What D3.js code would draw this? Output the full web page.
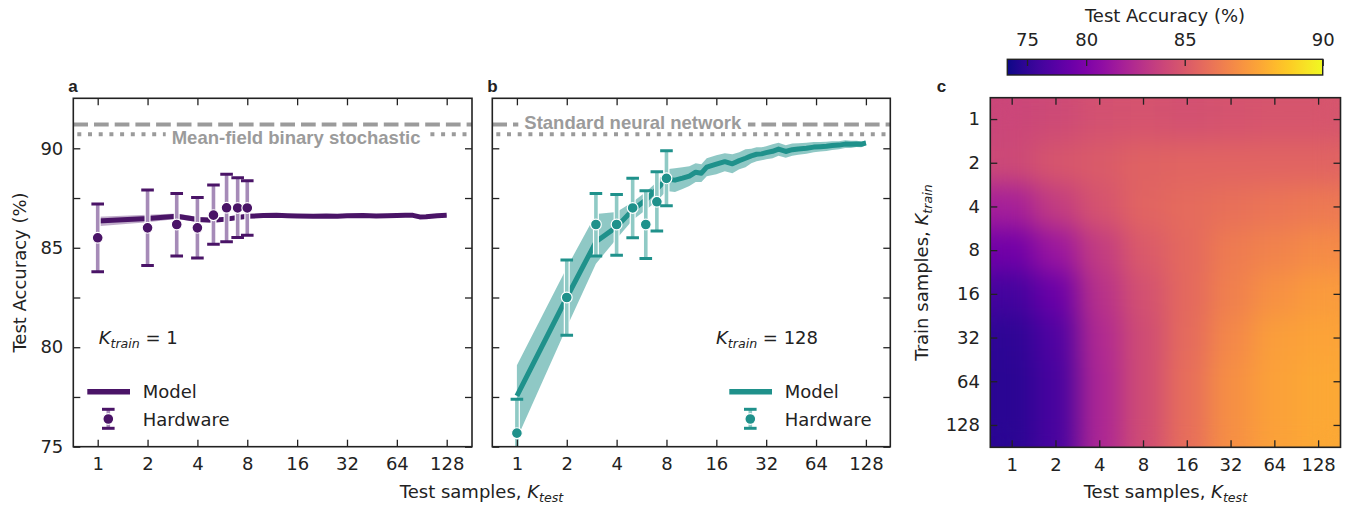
<!DOCTYPE html>
<html>
<head>
<meta charset="utf-8">
<script src="https://cdn.jsdelivr.net/npm/d3@7"></script>
<style>
  body { margin: 0; background: #fff; }
  svg { display: block; }
  text { font-family: "DejaVu Sans", sans-serif; fill: #222; }
</style>
</head>
<body>
<div id="chart"></div>
<script>
// ---- data ----
var kTicks = [1, 2, 4, 8, 16, 32, 64, 128];
var hwK = [1, 2, 3, 4, 5, 6, 7, 8];

// panel a: K_train = 1
var aK = [1, 2, 3, 4, 5, 6, 7, 8, 10, 12, 14, 16, 20, 24, 28, 32, 40, 48, 56, 64, 72, 80, 88, 96, 112, 128];
var aModel = [86.34, 86.47, 86.58, 86.42, 86.38, 86.44, 86.52, 86.58, 86.62, 86.63, 86.61, 86.60, 86.59, 86.60, 86.58, 86.61, 86.62, 86.60, 86.61, 86.62, 86.63, 86.63, 86.55, 86.56, 86.61, 86.63];
var aUpper = [86.56, 86.66, 86.72, 86.56, 86.50, 86.54, 86.60, 86.65, 86.67, 86.67, 86.65, 86.64, 86.63, 86.64, 86.62, 86.65, 86.66, 86.64, 86.65, 86.66, 86.67, 86.67, 86.59, 86.60, 86.65, 86.67];
var aLower = [86.08, 86.28, 86.45, 86.30, 86.27, 86.35, 86.44, 86.51, 86.57, 86.59, 86.57, 86.56, 86.55, 86.56, 86.54, 86.57, 86.58, 86.56, 86.57, 86.58, 86.59, 86.59, 86.51, 86.52, 86.57, 86.59];
var aHw = [85.50, 86.00, 86.17, 86.00, 86.64, 87.01, 87.00, 87.00];
var aHwLo = [83.79, 84.11, 84.59, 84.49, 85.18, 85.30, 85.52, 85.63];
var aHwHi = [87.20, 87.90, 87.73, 87.53, 88.15, 88.69, 88.52, 88.37];

// panel b: K_train = 128
var bK = [1, 2, 3, 4, 5, 6, 7, 8, 9, 10, 11, 12, 13, 14, 16, 18, 20, 22, 24, 26, 28, 30, 32, 35, 38, 42, 46, 50, 56, 62, 68, 74, 80, 88, 96, 104, 112, 120, 128];
var bModel = [77.55, 82.50, 85.30, 86.05, 86.90, 87.40, 87.95, 88.45, 88.40, 88.50, 88.60, 88.80, 88.75, 89.05, 89.20, 89.33, 89.22, 89.38, 89.50, 89.62, 89.70, 89.72, 89.78, 89.85, 89.96, 89.84, 89.93, 89.97, 90.00, 90.06, 90.08, 90.10, 90.14, 90.16, 90.21, 90.20, 90.22, 90.20, 90.27];
var bUpper = [79.10, 84.00, 86.70, 86.80, 87.30, 87.80, 88.30, 88.95, 89.00, 89.05, 89.10, 89.25, 89.20, 89.50, 89.65, 89.75, 89.70, 89.80, 89.95, 89.98, 90.05, 90.05, 90.10, 90.20, 90.28, 90.15, 90.24, 90.26, 90.28, 90.32, 90.32, 90.33, 90.36, 90.36, 90.40, 90.38, 90.38, 90.35, 90.38];
var bLower = [75.40, 81.00, 84.20, 85.45, 86.40, 86.90, 87.35, 87.85, 87.80, 87.95, 88.10, 88.30, 88.30, 88.60, 88.70, 88.85, 88.75, 88.95, 89.05, 89.25, 89.35, 89.40, 89.45, 89.50, 89.62, 89.52, 89.62, 89.68, 89.72, 89.80, 89.84, 89.86, 89.92, 89.95, 90.02, 90.02, 90.06, 90.05, 90.15];
var bHw = [75.68, 82.50, 86.17, 86.17, 87.00, 86.17, 87.31, 88.49];
var bHwLo = [74.00, 80.60, 84.59, 84.63, 85.50, 84.46, 85.84, 87.11];
var bHwHi = [77.38, 84.38, 87.73, 87.68, 88.49, 87.87, 88.82, 89.88];

// reference lines
var standardNN = 91.2;
var meanField = 90.7;

// panel c: rows = K_train (1..128), cols = K_test (1..128)
var heatRows = [
  [84.1, 84.3, 84.6, 84.7, 84.6, 84.7, 84.8, 84.8],
  [84.2, 84.8, 85.1, 85.4, 85.5, 85.5, 85.5, 85.5],
  [82.0, 83.6, 84.7, 85.5, 85.8, 86.0, 86.2, 86.3],
  [79.3, 81.5, 83.6, 85.0, 85.7, 86.4, 86.7, 87.0],
  [76.5, 79.0, 83.0, 84.6, 85.7, 86.6, 87.2, 87.5],
  [74.8, 77.3, 82.6, 84.4, 85.8, 86.9, 87.6, 87.8],
  [74.5, 76.8, 82.4, 84.4, 85.9, 87.1, 87.7, 87.9],
  [74.5, 76.8, 82.4, 84.4, 85.9, 87.1, 87.7, 87.9]
];
var cbarTicks = [75, 80, 85, 90];
var yTicks = [75, 77.5, 80, 82.5, 85, 87.5, 90];

// ---- layout ----
var W = 1353, H = 508;
var PA = {left: 73.3, right: 472, top: 98.3, bottom: 446.7};
var PB = {left: 492.3, right: 890.3, top: 98.3, bottom: 446.7};
var PC = {left: 990.3, right: 1340.5, top: 97.7, bottom: 447.3};
var purple = '#4a1467', purpleLight = '#a68bb8';
var teal = '#1f918b', tealLight = '#8fcac5';
var ink = '#222';

var svg = d3.select('#chart').append('svg')
  .attr('width', W).attr('height', H);
var defs = svg.append('defs');

var y = d3.scaleLinear().domain([75, 90]).range([446.7, 148.3]);
var xa = d3.scaleLog().base(2).domain([1, 128]).range([97.7, 446.7]);
var xb = d3.scaleLog().base(2).domain([1, 128]).range([516.9, 865.9]);

function zip(ks, vs) {
  return ks.map(function(k, i) { return {k: k, v: vs[i]}; });
}

function drawPanel(p, x, id, cfg) {
  defs.append('clipPath').attr('id', 'clip' + id)
    .append('rect')
    .attr('x', p.left).attr('y', p.top)
    .attr('width', p.right - p.left).attr('height', p.bottom - p.top);

  var g = svg.append('g').attr('clip-path', 'url(#clip' + id + ')');

  // reference lines
  g.append('line')
    .attr('x1', p.left).attr('x2', p.right)
    .attr('y1', y(standardNN)).attr('y2', y(standardNN))
    .attr('stroke', '#9b9b9b').attr('stroke-width', 4)
    .attr('stroke-dasharray', '14.7,6');
  g.append('line')
    .attr('x1', p.left + 4).attr('x2', p.right)
    .attr('y1', y(meanField)).attr('y2', y(meanField))
    .attr('stroke', '#9b9b9b').attr('stroke-width', 4)
    .attr('stroke-dasharray', '4,6.7');

  // labelled reference line
  var lbl = g.append('g');
  var box = lbl.append('rect').attr('fill', '#fff');
  var t = lbl.append('text')
    .attr('x', cfg.refX).attr('y', cfg.refY)
    .style('font-family', '"Liberation Sans", Arial, sans-serif')
    .style('font-weight', 'bold')
    .style('font-size', '18.5px')
    .style('fill', '#9b9b9b')
    .text(cfg.refText);
  var bb = t.node().getBBox();
  box.attr('x', bb.x - 6).attr('width', bb.width + 12)
    .attr('y', cfg.refY - 15).attr('height', 17.5);

  // model band and line
  var band = cfg.k.map(function(k, i) {
    return {k: k, lo: cfg.lower[i], hi: cfg.upper[i]};
  });
  g.append('path').datum(band)
    .attr('d', d3.area()
      .x(function(d) { return x(d.k); })
      .y0(function(d) { return y(d.lo); })
      .y1(function(d) { return y(d.hi); }))
    .attr('fill', cfg.color).attr('fill-opacity', cfg.bandOpacity);

  g.append('path').datum(zip(cfg.k, cfg.model))
    .attr('d', d3.line()
      .x(function(d) { return x(d.k); })
      .y(function(d) { return y(d.v); }))
    .attr('fill', 'none').attr('stroke', cfg.color)
    .attr('stroke-width', 5).attr('stroke-linejoin', 'round');

  // hardware error bars
  var hw = hwK.map(function(k, i) {
    return {k: k, v: cfg.hw[i], lo: cfg.hwLo[i], hi: cfg.hwHi[i]};
  });
  var eb = g.selectAll('.eb').data(hw).enter().append('g');
  eb.append('line')
    .attr('x1', function(d) { return x(d.k); })
    .attr('x2', function(d) { return x(d.k); })
    .attr('y1', function(d) { return y(d.lo); })
    .attr('y2', function(d) { return y(d.hi); })
    .attr('stroke', '#fff').attr('stroke-width', 6);
  eb.append('line')
    .attr('x1', function(d) { return x(d.k); })
    .attr('x2', function(d) { return x(d.k); })
    .attr('y1', function(d) { return y(d.lo); })
    .attr('y2', function(d) { return y(d.hi); })
    .attr('stroke', cfg.light).attr('stroke-width', 3.6);
  ['lo', 'hi'].forEach(function(key) {
    eb.append('line')
      .attr('x1', function(d) { return x(d.k) - 6.3; })
      .attr('x2', function(d) { return x(d.k) + 6.3; })
      .attr('y1', function(d) { return y(d[key]); })
      .attr('y2', function(d) { return y(d[key]); })
      .attr('stroke', cfg.color).attr('stroke-width', 3);
  });
  eb.append('circle')
    .attr('cx', function(d) { return x(d.k); })
    .attr('cy', function(d) { return y(d.v); })
    .attr('r', 5.4)
    .attr('fill', cfg.color).attr('stroke', '#fff').attr('stroke-width', 1.2);

  // axes: ticks inside on all four sides
  var bottom = svg.append('g').attr('transform', 'translate(0,' + p.bottom + ')')
    .call(d3.axisBottom(x).tickValues(kTicks).tickFormat(d3.format('d'))
      .tickSize(-7).tickPadding(10.5));
  var top = svg.append('g').attr('transform', 'translate(0,' + p.top + ')')
    .call(d3.axisTop(x).tickValues(kTicks).tickFormat('').tickSize(-7));
  var left = svg.append('g').attr('transform', 'translate(' + p.left + ',0)')
    .call(d3.axisLeft(y).tickValues(yTicks)
      .tickFormat(function(d) { return (cfg.yLabels && d % 5 === 0) ? d : ''; })
      .tickSize(-7).tickPadding(10));
  var right = svg.append('g').attr('transform', 'translate(' + p.right + ',0)')
    .call(d3.axisRight(y).tickValues(yTicks).tickFormat('').tickSize(-7));
  [bottom, top, left, right].forEach(styleAxis);

  svg.append('rect')
    .attr('x', p.left).attr('y', p.top)
    .attr('width', p.right - p.left).attr('height', p.bottom - p.top)
    .attr('fill', 'none').attr('stroke', ink).attr('stroke-width', 1.6);

  // K_train annotation
  var ann = svg.append('text').attr('x', cfg.annX).attr('y', 344)
    .style('font-size', '18px');
  ann.append('tspan').style('font-style', 'italic').text('K');
  ann.append('tspan').style('font-style', 'italic').style('font-size', '12.6px')
    .attr('dy', 4).text('train');
  ann.append('tspan').attr('dy', -4).text(' = ' + cfg.kTrain);

  // legend
  var lx = cfg.legX;
  svg.append('line')
    .attr('x1', lx).attr('x2', lx + 42.7)
    .attr('y1', 391.7).attr('y2', 391.7)
    .attr('stroke', cfg.color).attr('stroke-width', 5.5);
  var mx = lx + 21;
  svg.append('line').attr('x1', mx).attr('x2', mx).attr('y1', 409.3).attr('y2', 428.3)
    .attr('stroke', cfg.light).attr('stroke-width', 3.6);
  [409.3, 428.3].forEach(function(cy) {
    svg.append('line').attr('x1', mx - 6.3).attr('x2', mx + 6.3)
      .attr('y1', cy).attr('y2', cy)
      .attr('stroke', cfg.color).attr('stroke-width', 3);
  });
  svg.append('circle').attr('cx', mx).attr('cy', 419).attr('r', 5.4)
    .attr('fill', cfg.color).attr('stroke', '#fff').attr('stroke-width', 1.2);
  svg.append('text').attr('x', lx + 55.4).attr('y', 398)
    .style('font-size', '18px').text('Model');
  svg.append('text').attr('x', lx + 55.4).attr('y', 426)
    .style('font-size', '18px').text('Hardware');

  // panel letter
  svg.append('text').attr('x', p.left - 5).attr('y', 92)
    .style('font-family', '"Liberation Sans", Arial, sans-serif')
    .style('font-weight', 'bold').style('font-size', '17px')
    .text(id);
}

function styleAxis(a) {
  a.select('.domain').remove();
  a.selectAll('.tick line').attr('stroke', ink).attr('stroke-width', 1.3);
  a.selectAll('.tick text')
    .attr('fill', ink)
    .style('font-family', '"DejaVu Sans", sans-serif')
    .style('font-size', '18px');
}

drawPanel(PA, xa, 'a', {
  k: aK, model: aModel, upper: aUpper, lower: aLower,
  hw: aHw, hwLo: aHwLo, hwHi: aHwHi,
  color: purple, light: purpleLight, bandOpacity: 0.35,
  refText: 'Mean-field binary stochastic', refX: 171.7, refY: 144,
  yLabels: true, annX: 98.7, kTrain: 1, legX: 87.3
});

drawPanel(PB, xb, 'b', {
  k: bK, model: bModel, upper: bUpper, lower: bLower,
  hw: bHw, hwLo: bHwLo, hwHi: bHwHi,
  color: teal, light: tealLight, bandOpacity: 0.5,
  refText: 'Standard neural network', refX: 524.3, refY: 129.3,
  yLabels: false, annX: 716, kTrain: 128, legX: 729.3
});

// y label a
svg.append('text')
  .attr('transform', 'translate(25.8,272.5) rotate(-90)')
  .attr('text-anchor', 'middle')
  .style('font-size', '18px')
  .text('Test Accuracy (%)');

// x / y labels with K subscripts
function kLabel(sel, x, yPos, sub, rot) {
  var t = sel.append('text')
    .attr('text-anchor', 'middle')
    .style('font-size', '18px');
  if (rot) t.attr('transform', 'translate(' + x + ',' + yPos + ') rotate(-90)');
  else t.attr('x', x).attr('y', yPos);
  t.append('tspan').text(rot ? 'Train samples, ' : 'Test samples, ');
  t.append('tspan').style('font-style', 'italic').text('K');
  t.append('tspan').style('font-style', 'italic').style('font-size', '12.6px')
    .attr('dy', 4).text(sub);
  return t;
}
kLabel(svg, 481.5, 498, 'test', false);

// ---- panel c: heatmap ----
// power norm (gamma 2) between 70 and 90: t = ((v - 70) / 20)^2
var vmin = 70, vmax = 90;
var norm = d3.scalePow().exponent(2).domain([0, vmax - vmin]).range([0, 1]).clamp(true);
function colorOf(v) { return d3.interpolatePlasma(norm(v - vmin)); }

var xc = d3.scaleBand().domain(kTicks).range([PC.left, PC.right]);
var yc = d3.scaleBand().domain(kTicks).range([PC.top, PC.bottom]);

var filt = defs.append('filter').attr('id', 'smooth')
  .attr('filterUnits', 'userSpaceOnUse')
  .attr('x', PC.left).attr('y', PC.top)
  .attr('width', PC.right - PC.left).attr('height', PC.bottom - PC.top)
  .attr('color-interpolation-filters', 'sRGB');
filt.append('feGaussianBlur').attr('stdDeviation', 13);
filt.append('feComponentTransfer')
  .append('feFuncA').attr('type', 'linear').attr('slope', 0).attr('intercept', 1);

var cells = [];
heatRows.forEach(function(row, j) {
  row.forEach(function(v, i) {
    cells.push({tr: kTicks[j], te: kTicks[i], v: v});
  });
});
svg.append('g').attr('filter', 'url(#smooth)')
  .selectAll('rect').data(cells).enter().append('rect')
  .attr('x', function(d) { return xc(d.te); })
  .attr('y', function(d) { return yc(d.tr); })
  .attr('width', xc.bandwidth() + 0.5)
  .attr('height', yc.bandwidth() + 0.5)
  .attr('fill', function(d) { return colorOf(d.v); });

var cb = svg.append('g').attr('transform', 'translate(0,' + PC.bottom + ')')
  .call(d3.axisBottom(xc).tickSize(-7).tickPadding(10.6));
var ct = svg.append('g').attr('transform', 'translate(0,' + PC.top + ')')
  .call(d3.axisTop(xc).tickFormat('').tickSize(-7));
var cl = svg.append('g').attr('transform', 'translate(' + PC.left + ',0)')
  .call(d3.axisLeft(yc).tickSize(-7).tickPadding(10.3));
var cr = svg.append('g').attr('transform', 'translate(' + PC.right + ',0)')
  .call(d3.axisRight(yc).tickFormat('').tickSize(-7));
[cb, ct, cl, cr].forEach(styleAxis);

svg.append('rect')
  .attr('x', PC.left).attr('y', PC.top)
  .attr('width', PC.right - PC.left).attr('height', PC.bottom - PC.top)
  .attr('fill', 'none').attr('stroke', ink).attr('stroke-width', 1.6);

svg.append('text').attr('x', PC.left - 53.6).attr('y', 92)
  .style('font-family', '"Liberation Sans", Arial, sans-serif')
  .style('font-weight', 'bold').style('font-size', '17px')
  .text('c');

kLabel(svg, 1165.4, 498, 'test', false);
kLabel(svg, 928, 272.5, 'train', true);

// colorbar
var CB = {left: 1007.3, right: 1322.7, top: 59.3, bottom: 75};
var grad = defs.append('linearGradient').attr('id', 'cbar');
d3.range(0, 1.0001, 0.05).forEach(function(s) {
  grad.append('stop').attr('offset', s).attr('stop-color', d3.interpolatePlasma(s));
});
svg.append('rect')
  .attr('x', CB.left).attr('y', CB.top)
  .attr('width', CB.right - CB.left).attr('height', CB.bottom - CB.top)
  .attr('fill', 'url(#cbar)');
var cbScale = d3.scalePow().exponent(2).domain([0, vmax - vmin]).range([CB.left, CB.right]);
var cax = svg.append('g').attr('transform', 'translate(0,' + CB.top + ')')
  .call(d3.axisTop(cbScale)
    .tickValues(cbarTicks.map(function(v) { return v - vmin; }))
    .tickFormat(function(d) { return d + vmin; })
    .tickSize(-6.7).tickPadding(13.3));
styleAxis(cax);
svg.append('rect')
  .attr('x', CB.left).attr('y', CB.top)
  .attr('width', CB.right - CB.left).attr('height', CB.bottom - CB.top)
  .attr('fill', 'none').attr('stroke', ink).attr('stroke-width', 1.4);
svg.append('text').attr('x', 1165).attr('y', 21.7)
  .attr('text-anchor', 'middle').style('font-size', '18px')
  .text('Test Accuracy (%)');
</script>
</body>
</html>
